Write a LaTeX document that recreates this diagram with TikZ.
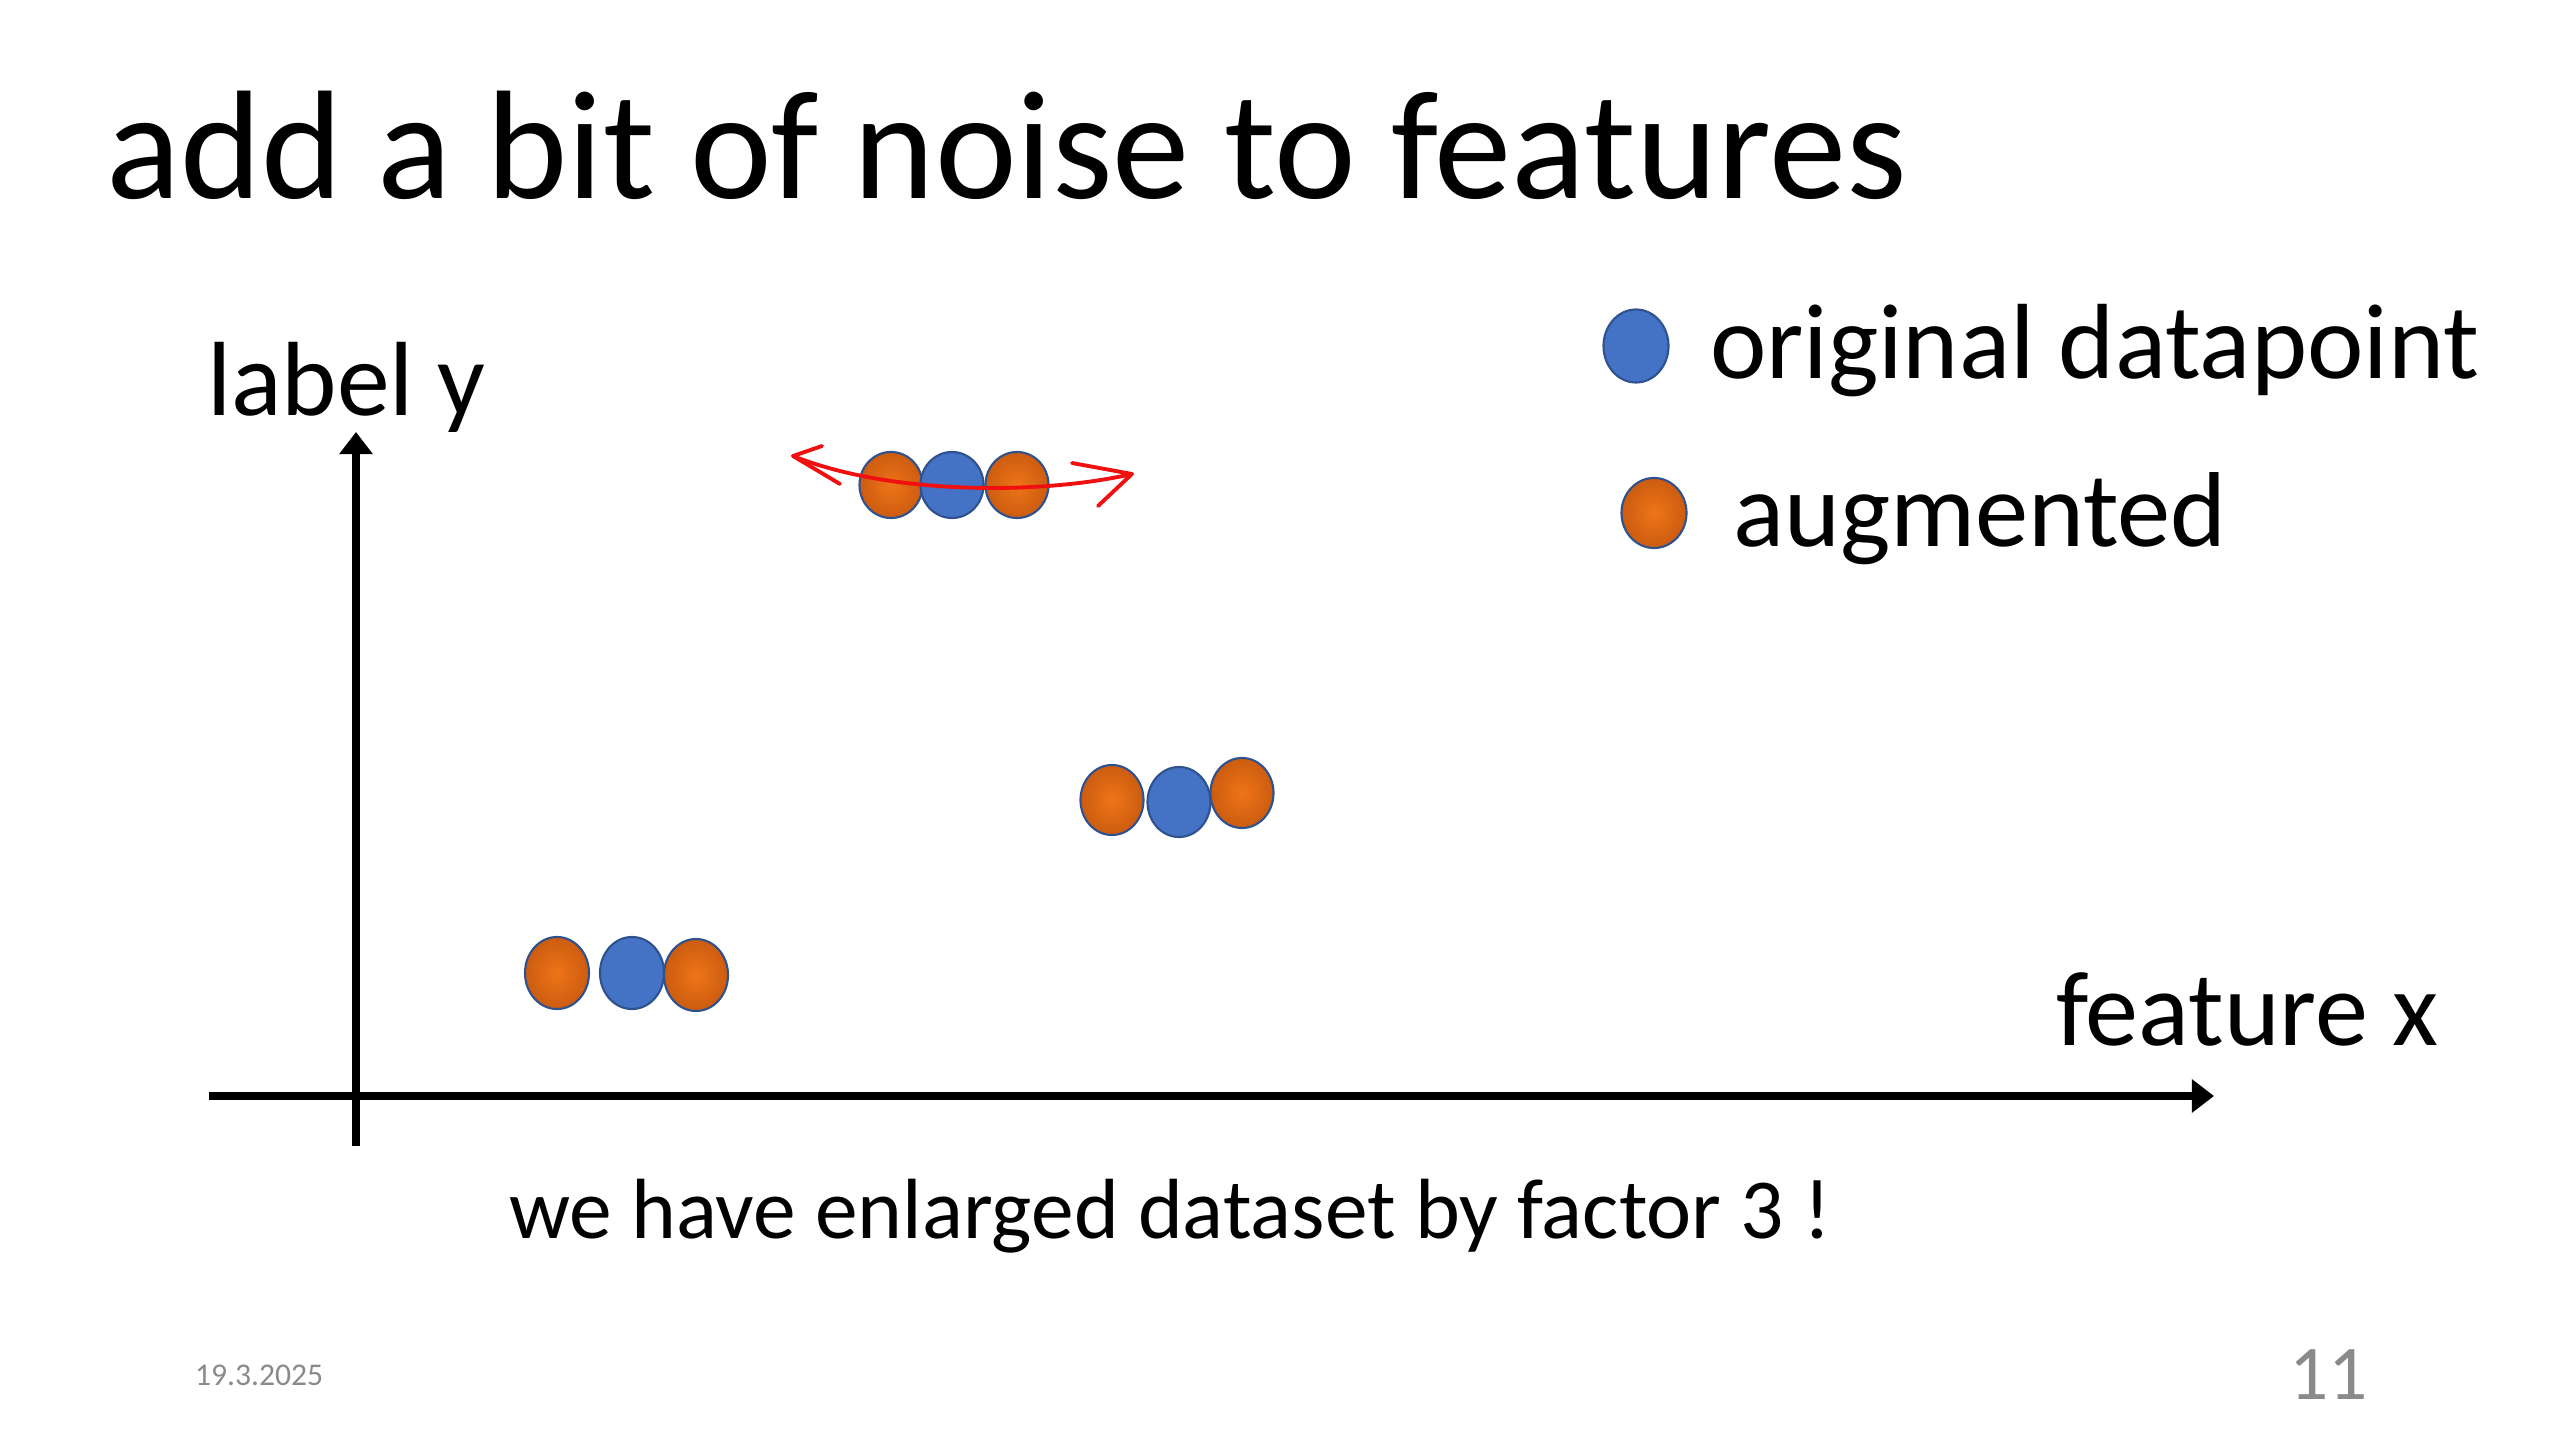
\documentclass[tikz,border=0pt]{standalone}
\usepackage{fontspec}
\setmainfont{Carlito}
\usetikzlibrary{arrows.meta,shapes.geometric}
\definecolor{dotblue}{HTML}{4472C4}
\definecolor{dotedge}{HTML}{2F528F}
\definecolor{orangein}{HTML}{EE7418}
\definecolor{orangeout}{HTML}{CC5C10}
\definecolor{pagegray}{HTML}{8A8A8A}
\definecolor{penred}{HTML}{F01010}
\begin{document}
\begin{tikzpicture}[x=0.01cm,y=-0.01cm,
  dotbase/.style={ellipse, draw=dotedge, line width=0.6pt, inner sep=0pt,
    minimum width=0.63cm, minimum height=0.70cm},
  origdot/.style={dotbase, fill=dotblue},
  augdot/.style={dotbase, inner color=orangein, outer color=orangeout},
  flat/.style={minimum height=0.66cm},
  txt/.style={anchor=base west, inner sep=0pt, outer sep=0pt},
  axis/.style={line width=2.3pt, -{Triangle[length=6.3pt,width=9.2pt]}},
  redpen/.style={draw=penred, line width=1.1pt, line cap=round, line join=round}]
\useasboundingbox (0,0) rectangle (2560,1440);
\fill[white] (0,0) rectangle (2560,1440);

% title
\node[txt, font=\fontsize{44}{50}\selectfont] (title) at (106,199) {add a bit of noise to features};

% axes
\coordinate (yb) at (356,1146);
\coordinate (yt) at (356,432);
\coordinate (xl) at (209,1096);
\coordinate (xr) at (2214,1096);
\draw[axis] (yb) -- (yt);
\draw[axis] (xl) -- (xr);
\node[txt, font=\fontsize{30}{34}\selectfont] (ylab) at (207,416) {label y};
\node[txt, font=\fontsize{30.2}{34}\selectfont] (xlab) at (2056,1045) {feature x};

% legend
\node[origdot, minimum width=0.65cm, minimum height=0.73cm] (lo) at (1636,346) {};
\node[augdot, minimum width=0.65cm] (la) at (1654,513) {};
\node[txt, font=\fontsize{30.4}{34}\selectfont] (lot) at (1710,379) {original datapoint};
\node[txt, font=\fontsize{30.3}{34}\selectfont] (lat) at (1733,547) {augmented};

% top cluster
\node[augdot, flat] (t1) at (891,485) {};
\node[origdot, flat] (t2) at (952,485) {};
\node[augdot, flat] (t3) at (1017,485) {};

% middle cluster
\node[augdot] (m1) at (1112,800) {};
\node[origdot] (m2) at (1179,802) {};
\node[augdot] (m3) at (1242,793) {};

% bottom cluster
\node[augdot, minimum width=0.64cm, minimum height=0.72cm] (b1) at (557,973) {};
\node[origdot, minimum width=0.64cm, minimum height=0.72cm] (b2) at (632,973) {};
\node[augdot, minimum width=0.64cm, minimum height=0.72cm] (b3) at (696,975) {};

% red hand-drawn double arrow
\coordinate (lt) at (793,456);
\coordinate (lu) at (822,446);
\coordinate (ll) at (840,484);
\coordinate (rt) at (1132,474);
\coordinate (ru) at (1072,463);
\coordinate (rl) at (1098,506);
\draw[redpen] (lt) .. controls (890,495) and (1040,495) .. (rt);
\draw[redpen] (lu) -- (lt) -- (ll);
\draw[redpen] (ru) -- (rt) -- (rl);

% bottom text
\node[txt, font=\fontsize{24.3}{28}\selectfont] (note) at (509,1238) {we have enlarged dataset by factor 3 !};

% footer
\node[txt, font=\fontsize{9}{11}\selectfont, text=pagegray] (date) at (195,1385) {19.3.2025};
\node[txt, font=\fontsize{22}{26}\selectfont, text=pagegray] (page) at (2289,1399) {11};
\end{tikzpicture}
\end{document}
